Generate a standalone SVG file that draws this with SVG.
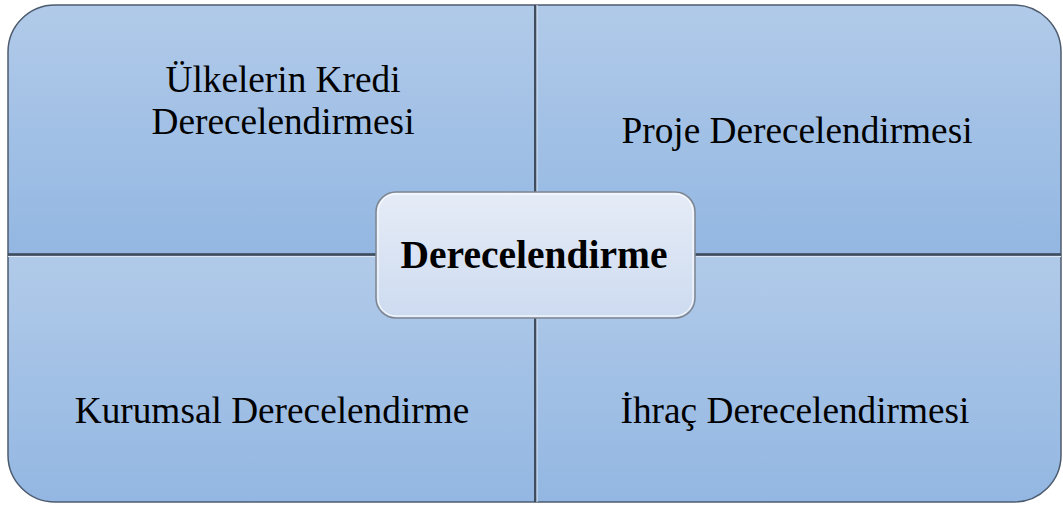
<svg xmlns="http://www.w3.org/2000/svg" width="1063" height="505" viewBox="0 0 1063 505">
  <defs>
    <linearGradient id="qg" x1="0" y1="0" x2="0" y2="1">
      <stop offset="0" stop-color="#b1cae9"/>
      <stop offset="1" stop-color="#93b7e2"/>
    </linearGradient>
    <linearGradient id="cg" x1="0" y1="0" x2="0" y2="1">
      <stop offset="0" stop-color="#e6ecf7"/>
      <stop offset="1" stop-color="#cddbf0"/>
    </linearGradient>
  </defs>
  <style>
    .q { fill: url(#qg); stroke: #4d5b6e; stroke-width: 1.5; }
    .t { font-family: "Liberation Serif", "Times New Roman", serif; font-size: 37.3px; fill: #000; text-anchor: middle; }
    .b { font-family: "Liberation Serif", "Times New Roman", serif; font-size: 39.5px; font-weight: bold; fill: #000; text-anchor: middle; }
  </style>
  <rect width="1063" height="505" fill="#ffffff"/>
  <g id="q-tl">
    <path class="q" d="M8,254 L8,52 A47,47 0 0 1 55,5 L535,5 L535,254 Z"/>
    <text class="t" x="283" y="92">Ülkelerin Kredi</text>
    <text class="t" x="283" y="134">Derecelendirmesi</text>
  </g>
  <g id="q-tr">
    <path class="q" d="M536,5 L1014,5 A47,47 0 0 1 1061,52 L1061,254 L536,254 Z"/>
    <text class="t" x="797" y="143">Proje Derecelendirmesi</text>
  </g>
  <g id="q-bl">
    <path class="q" d="M8,255 L535,255 L535,502 L55,502 A47,47 0 0 1 8,455 Z"/>
    <text class="t" x="272" y="423">Kurumsal Derecelendirme</text>
  </g>
  <g id="q-br">
    <path class="q" d="M536,255 L1061,255 L1061,455 A47,47 0 0 1 1014,502 L536,502 Z"/>
    <text class="t" x="795" y="423">İhraç Derecelendirmesi</text>
  </g>
  <g id="connectors">
    <line x1="8" y1="254.5" x2="1061" y2="254.5" stroke="#3f4c5e" stroke-width="2"/>
    <line x1="535" y1="5" x2="535" y2="502" stroke="#3f4c5e" stroke-width="2"/>
    <line x1="8" y1="256.5" x2="1061" y2="256.5" stroke="#dbe6f4" stroke-width="1"/>
    <line x1="537" y1="5" x2="537" y2="502" stroke="#dbe6f4" stroke-width="1"/>
  </g>
  <g id="center">
    <rect x="376" y="192" width="319" height="126" rx="20" ry="20" fill="url(#cg)" stroke="#7d8591" stroke-width="1.5"/>
    <rect x="378" y="194" width="315" height="122" rx="18" ry="18" fill="none" stroke="#ffffff" stroke-width="1"/>
    <text class="b" x="534" y="268">Derecelendirme</text>
  </g>
</svg>
